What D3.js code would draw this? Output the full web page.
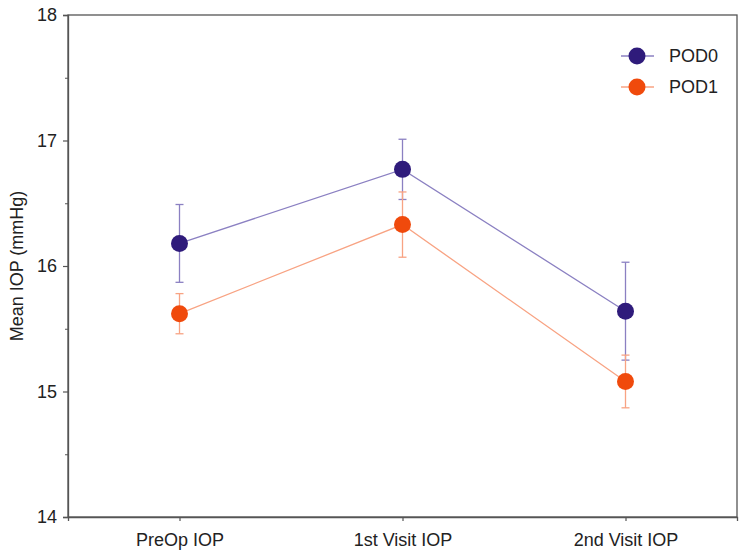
<!DOCTYPE html>
<html>
<head>
<meta charset="utf-8">
<script src="https://cdn.jsdelivr.net/npm/d3@7"></script>
<style>
  html, body { margin: 0; padding: 0; background: #fff; }
  svg { display: block; font-family: "Liberation Sans", Arial, sans-serif; }
</style>
</head>
<body>
<svg id="chart" width="750" height="554"></svg>
<script>
const categories = ["PreOp IOP", "1st Visit IOP", "2nd Visit IOP"];
const seriesNames = ["POD0", "POD1"];
const pod0Mean = [16.18, 16.77, 15.64];
const pod0Err  = [0.31, 0.24, 0.39];
const pod1Mean = [15.62, 16.33, 15.08];
const pod1Err  = [0.16, 0.26, 0.21];
const yTicks = [14, 15, 16, 17, 18];
const yMinorTicks = [14.5, 15.5, 16.5, 17.5];
const yLabel = "Mean IOP (mmHg)";

const series = [
  { name: seriesNames[0], mean: pod0Mean, err: pod0Err, dot: "#2f1b7b", line: "#8b80c2" },
  { name: seriesNames[1], mean: pod1Mean, err: pod1Err, dot: "#f04a0c", line: "#f8a383" }
];

const W = 750, H = 554;
const margin = { left: 68, right: 13, top: 15, bottom: 37 };
const svg = d3.select("#chart");

const x = d3.scalePoint().domain(categories)
  .range([margin.left, W - margin.right]).padding(0.5);
const y = d3.scaleLinear().domain([14, 18]).range([H - margin.bottom, margin.top]);

const axisColor = "#555";

// frame
svg.append("rect")
  .attr("x", margin.left).attr("y", margin.top)
  .attr("width", W - margin.left - margin.right)
  .attr("height", H - margin.top - margin.bottom)
  .attr("fill", "none").attr("stroke", axisColor).attr("stroke-width", 1.3);

// y axis
const yAxis = svg.append("g").attr("transform", `translate(${margin.left},0)`)
  .call(d3.axisLeft(y).tickValues(yTicks).tickSize(5).tickPadding(6).tickFormat(d3.format("d")));
yAxis.select(".domain").attr("stroke", axisColor).attr("stroke-width", 1.3);
yAxis.selectAll(".tick line").attr("stroke", axisColor).attr("stroke-width", 1.2);
yAxis.selectAll(".tick text").attr("font-size", 18).attr("fill", "#222")
  .attr("font-family", "'Liberation Sans', Arial, sans-serif");

const yMinor = svg.append("g").attr("transform", `translate(${margin.left},0)`)
  .call(d3.axisLeft(y).tickValues(yMinorTicks).tickSize(3).tickFormat(""));
yMinor.select(".domain").remove();
yMinor.selectAll(".tick line").attr("stroke", axisColor).attr("stroke-width", 1);

// x axis
const xAxis = svg.append("g").attr("transform", `translate(0,${H - margin.bottom})`)
  .call(d3.axisBottom(x).tickSize(4).tickPadding(12));
xAxis.select(".domain").attr("stroke", axisColor).attr("stroke-width", 1.3);
xAxis.selectAll(".tick line").attr("stroke", axisColor).attr("stroke-width", 1.2);
xAxis.selectAll(".tick text").attr("font-size", 18).attr("fill", "#222")
  .attr("font-family", "'Liberation Sans', Arial, sans-serif");

// y label
svg.append("text")
  .attr("transform", `translate(23,${(margin.top + H - margin.bottom) / 2}) rotate(-90)`)
  .attr("text-anchor", "middle")
  .attr("font-size", 18).attr("fill", "#222")
  .text(yLabel);

const line = d3.line().x((d, i) => x(categories[i])).y(d => y(d));

series.forEach(s => {
  const g = svg.append("g");
  // error bars
  s.mean.forEach((m, i) => {
    const cx = x(categories[i]);
    const e = s.err[i];
    g.append("line").attr("x1", cx).attr("x2", cx)
      .attr("y1", y(m + e)).attr("y2", y(m - e))
      .attr("stroke", s.line).attr("stroke-width", 1.3);
    [m + e, m - e].forEach(v => {
      g.append("line").attr("x1", cx - 4).attr("x2", cx + 4)
        .attr("y1", y(v)).attr("y2", y(v))
        .attr("stroke", s.line).attr("stroke-width", 1.3);
    });
  });
});

series.forEach(s => {
  svg.append("path").datum(s.mean)
    .attr("d", line).attr("fill", "none")
    .attr("stroke", s.line).attr("stroke-width", 1.3);
});

series.forEach(s => {
  svg.append("g").selectAll("circle").data(s.mean).join("circle")
    .attr("cx", (d, i) => x(categories[i])).attr("cy", d => y(d))
    .attr("r", 8.5).attr("fill", s.dot);
});

// legend
const legend = svg.append("g");
const legY = [56, 87];
series.forEach((s, i) => {
  legend.append("line").attr("x1", 621).attr("x2", 654)
    .attr("y1", legY[i]).attr("y2", legY[i])
    .attr("stroke", s.line).attr("stroke-width", 1.3);
  legend.append("circle").attr("cx", 637).attr("cy", legY[i]).attr("r", 8.5).attr("fill", s.dot);
  legend.append("text").attr("x", 669).attr("y", legY[i]).attr("dy", "0.35em")
    .attr("font-size", 18).attr("fill", "#222").text(s.name);
});
</script>
</body>
</html>
